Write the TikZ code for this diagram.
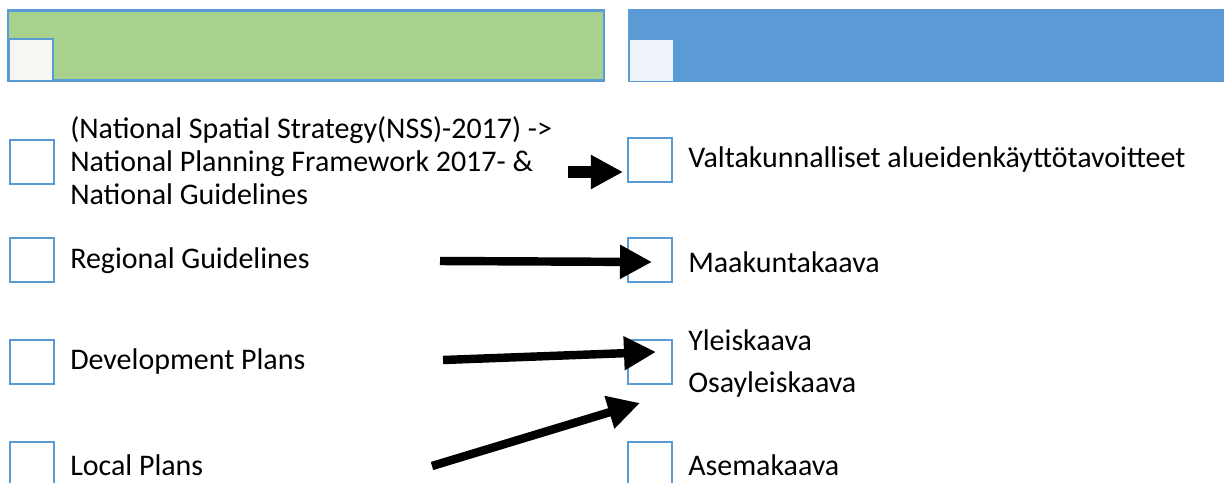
\documentclass[tikz,border=0pt]{standalone}
\usepackage{fontspec}
\setmainfont{Carlito}
\usetikzlibrary{arrows.meta}
\begin{document}
\begin{tikzpicture}[x=0.025cm,y=-0.025cm]
    \definecolor{plan_green}{RGB}{169,209,142}
    \definecolor{plan_blue}{RGB}{91,155,213}
    \definecolor{plan_tickL}{RGB}{245,248,242}
    \definecolor{plan_tickR}{RGB}{238,242,249}
    \tikzset{
      tick/.style={shape=rectangle,draw=plan_blue,line width=1.5pt,fill=white,minimum width=1.1cm,minimum height=1.1cm,inner sep=0pt},
      label/.style={anchor=west,inner sep=0pt,font=\fontsize{21.3}{23.5}\selectfont,align=left},
      bigarrow/.style={line width=6pt,-{Triangle[length=0.8cm,width=0.8cm]}}
    }
    \useasboundingbox (0,0) rectangle (1224,482);
    % header bars
    \node[shape=rectangle,draw=plan_blue,line width=1.5pt,fill=plan_green,minimum width=14.9cm,minimum height=1.75cm,inner sep=0pt] (headL) at (306,45.5) {};
    \node[shape=rectangle,fill=plan_blue,minimum width=15cm,minimum height=1.8cm,inner sep=0pt] (headR) at (928,45.5) {};
    \node[tick,fill=plan_tickL,minimum height=1.05cm] (headLtick) at (31,60) {};
    \node[tick,draw=plan_tickR,line width=0.6pt,fill=plan_tickR,minimum width=1.05cm,minimum height=1.0cm] (headRtick) at (651,60) {};
    % left column
    \node[tick] (natL) at (32,162) {};
    \node[tick] (regL) at (32,260) {};
    \node[tick] (devL) at (32,362) {};
    \node[tick] (locL) at (32,464) {};
    \node[label] (natT) at (70,161) {(National Spatial Strategy(NSS)-2017) ->\\National Planning Framework 2017- \&\\National Guidelines};
    \node[label] (regT) at (70,261) {Regional Guidelines};
    \node[label] (devT) at (70,362) {Development Plans};
    \node[label] (locT) at (70,465) {Local Plans};
    % right column
    \node[tick] (natR) at (650,160) {};
    \node[tick] (regR) at (650,260) {};
    \node[tick] (devR) at (650,362) {};
    \node[tick] (locR) at (650,464) {};
    \node[label] (natRT) at (688,160) {Valtakunnalliset alueidenkäyttötavoitteet};
    \node[label] (regRT) at (688,262) {Maakuntakaava};
    \node[label] (devRT) at (688,340) {Yleiskaava};
    \node[label] (osaRT) at (688,385) {Osayleiskaava};
    \node[label] (locRT) at (688,465) {Asemakaava};
    % arrows
    \coordinate (a1) at (568,172);
    \coordinate (b1) at (623,172);
    \coordinate (a2) at (440,261);
    \coordinate (b2) at (652,262);
    \coordinate (a3) at (443,360);
    \coordinate (b3) at (656,352);
    \coordinate (a4) at (432,466);
    \coordinate (b4) at (640,403);
    \draw[bigarrow,line width=8pt] (a1) -- (b1);
    \draw[bigarrow] (a2) -- (b2);
    \draw[bigarrow] (a3) -- (b3);
    \draw[bigarrow] (a4) -- (b4);
\end{tikzpicture}
\end{document}
